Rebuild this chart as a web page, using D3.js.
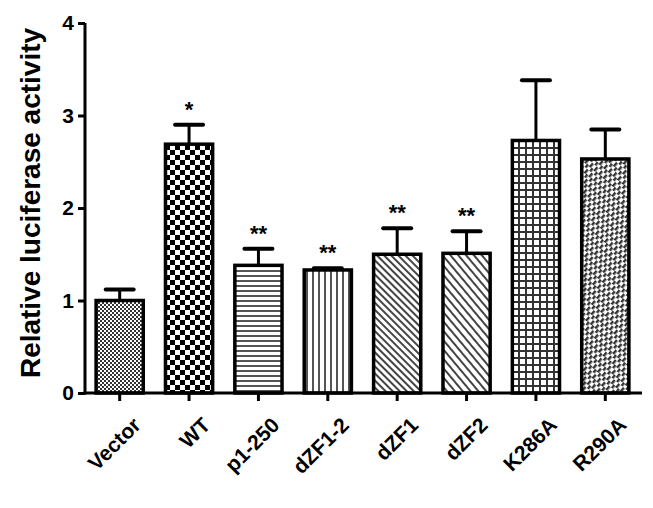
<!DOCTYPE html>
<html>
<head>
<meta charset="utf-8">
<script src="https://cdn.jsdelivr.net/npm/d3@7"></script>
<style>
  body { margin: 0; background: #fff; }
  text { font-family: "Liberation Sans", Arial, sans-serif; font-weight: bold; }
</style>
</head>
<body>
<div id="chart"></div>
<script>
var categories = ["Vector", "WT", "p1-250", "dZF1-2", "dZF1", "dZF2", "K286A", "R290A"];
var means = [1.0, 2.69, 1.38, 1.33, 1.5, 1.51, 2.73, 2.53];
var errors = [0.12, 0.21, 0.18, 0.02, 0.28, 0.24, 0.65, 0.32];
var stars = ["", "*", "**", "**", "**", "**", "", ""];
var patterns = ["fine", "checker", "hlines", "vlines", "diag1", "diag2", "grid", "weave"];
var yTicks = [0, 1, 2, 3, 4];

var width = 653, height = 508;

var svg = d3.select("#chart")
  .append("svg")
  .attr("width", width)
  .attr("height", height);

var defs = svg.append("defs");

// fill patterns for each bar
function pat(id, w, h) {
  var p = defs.append("pattern")
    .attr("id", id)
    .attr("patternUnits", "userSpaceOnUse")
    .attr("width", w)
    .attr("height", h);
  p.append("rect").attr("width", w).attr("height", h).attr("fill", "#fff");
  return p;
}

var p = pat("fine", 4, 4);
p.append("rect").attr("width", 2).attr("height", 2).attr("fill", "#333");
p.append("rect").attr("x", 2).attr("y", 2).attr("width", 2).attr("height", 2).attr("fill", "#333");

p = pat("checker", 10, 10);
p.append("rect").attr("width", 5).attr("height", 5).attr("fill", "#000");
p.append("rect").attr("x", 5).attr("y", 5).attr("width", 5).attr("height", 5).attr("fill", "#000");

p = pat("hlines", 5, 5);
p.append("rect").attr("width", 5).attr("height", 2).attr("fill", "#555");

p = pat("vlines", 6, 6);
p.append("rect").attr("width", 2).attr("height", 6).attr("fill", "#555");

p = pat("diag1", 5, 5).attr("patternTransform", "rotate(-45)");
p.append("rect").attr("width", 2).attr("height", 5).attr("fill", "#444");

p = pat("diag2", 6, 6).attr("patternTransform", "rotate(-40)");
p.append("rect").attr("width", 2).attr("height", 6).attr("fill", "#444");

p = pat("grid", 7, 7);
p.append("rect").attr("width", 7).attr("height", 2).attr("fill", "#333");
p.append("rect").attr("width", 2).attr("height", 7).attr("fill", "#333");

p = pat("weave", 6, 8).attr("patternTransform", "rotate(40)");
p.append("rect").attr("width", 2.5).attr("height", 5).attr("fill", "#333");
p.append("rect").attr("x", 3).attr("y", 4).attr("width", 2.5).attr("height", 5).attr("fill", "#333");

var x = d3.scaleBand()
  .domain(categories)
  .range([85, 640])
  .paddingInner(0.32)
  .paddingOuter(0.16);

var y = d3.scaleLinear()
  .domain([0, 4])
  .range([393, 23]);

var data = categories.map(function(c, i) {
  return { name: c, mean: means[i], err: errors[i], star: stars[i], pat: patterns[i] };
});

// error bars (upward only)
svg.selectAll(".err")
  .data(data)
  .enter()
  .append("line")
  .attr("x1", d => x(d.name) + x.bandwidth() / 2)
  .attr("x2", d => x(d.name) + x.bandwidth() / 2)
  .attr("y1", d => y(d.mean))
  .attr("y2", d => y(d.mean + d.err))
  .attr("stroke", "#000")
  .attr("stroke-width", 3);

svg.selectAll(".cap")
  .data(data)
  .enter()
  .append("line")
  .attr("x1", d => x(d.name) + x.bandwidth() / 2 - 14)
  .attr("x2", d => x(d.name) + x.bandwidth() / 2 + 14)
  .attr("y1", d => y(d.mean + d.err))
  .attr("y2", d => y(d.mean + d.err))
  .attr("stroke", "#000")
  .attr("stroke-width", 4)
  .attr("stroke-linecap", "round");

svg.selectAll(".bar")
  .data(data)
  .enter()
  .append("rect")
  .attr("x", d => x(d.name))
  .attr("y", d => y(d.mean))
  .attr("width", x.bandwidth())
  .attr("height", d => y(0) - y(d.mean))
  .attr("fill", d => "url(#" + d.pat + ")")
  .attr("stroke", "#000")
  .attr("stroke-width", 3.5);

svg.selectAll(".star")
  .data(data)
  .enter()
  .append("text")
  .attr("x", d => x(d.name) + x.bandwidth() / 2)
  .attr("y", d => y(d.mean + d.err) - 8)
  .attr("text-anchor", "middle")
  .attr("font-size", 22)
  .text(d => d.star);

// axes
var yAxis = svg.append("g")
  .attr("transform", "translate(85,0)")
  .call(d3.axisLeft(y).tickValues(yTicks).tickFormat(d3.format("d")).tickSize(7).tickPadding(4));

var xAxis = svg.append("g")
  .attr("transform", "translate(0,393)")
  .call(d3.axisBottom(x).tickSize(8).tickFormat(""));

[yAxis, xAxis].forEach(function(a) {
  a.select(".domain").attr("stroke-width", 3);
  a.selectAll(".tick line").attr("stroke-width", 3);
});
yAxis.select(".domain").attr("d", "M85,23V394.5").attr("transform", "translate(-85,0)");
xAxis.select(".domain").attr("d", "M83.5,0H642");
yAxis.selectAll(".tick text")
  .attr("font-size", 21)
  .attr("fill", "#000");

// rotated category labels
svg.selectAll(".xlab")
  .data(categories)
  .enter()
  .append("text")
  .attr("class", "xlab")
  .style("transform", d => "translate(" + (x(d) + x.bandwidth() / 2 + 12) + "px,416px) rotate(-45deg)")
  .attr("text-anchor", "end")
  .attr("dy", "0.7em")
  .attr("font-size", 21)
  .text(d => d);

svg.append("text")
  .attr("transform", "translate(40,203) rotate(-90)")
  .attr("text-anchor", "middle")
  .attr("font-size", 28)
  .text("Relative luciferase activity");
</script>
</body>
</html>
